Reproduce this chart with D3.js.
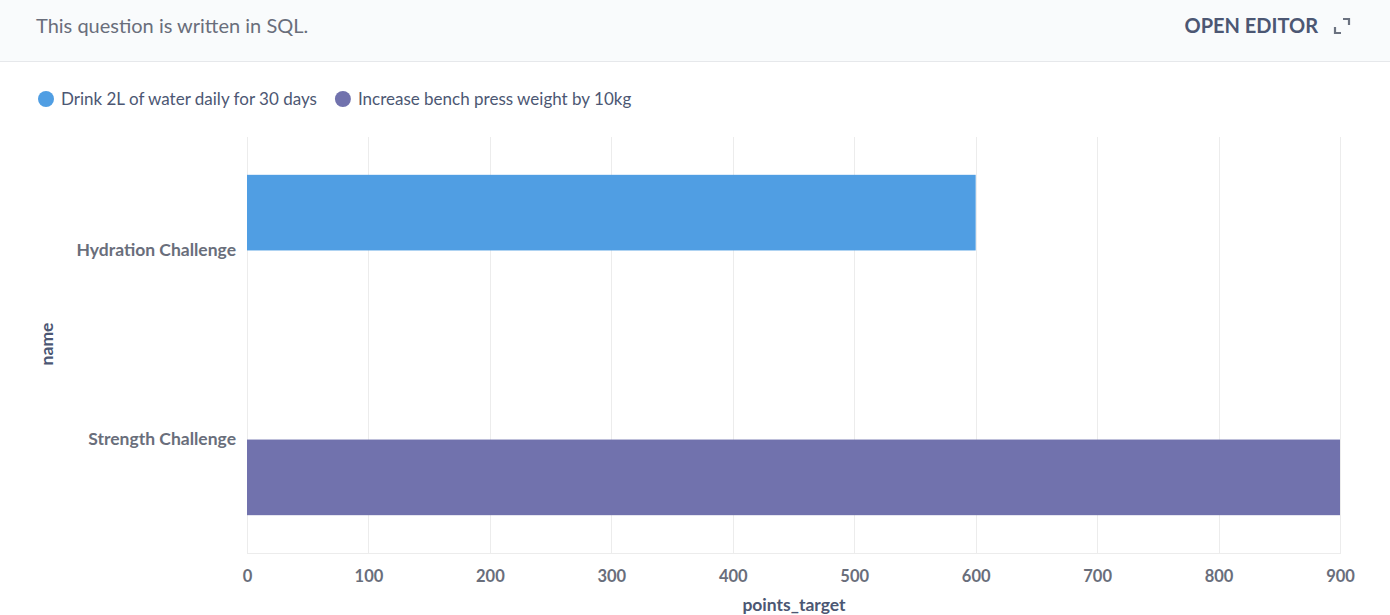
<!DOCTYPE html>
<html>
<head>
<meta charset="utf-8">
<script src="https://cdn.jsdelivr.net/npm/d3@7"></script>
<style>
  html, body { margin: 0; padding: 0; background: #fff; }
  body { width: 1390px; height: 615px; overflow: hidden; font-family: Lato, "Noto Sans", sans-serif; }
</style>
</head>
<body>
<svg id="chart" width="1390" height="615"></svg>
<script>
const categories = ["Hydration Challenge", "Strength Challenge"];
const series = ["Drink 2L of water daily for 30 days", "Increase bench press weight by 10kg"];
// values[seriesIndex][categoryIndex]; null = no bar
const seriesValues = [
  [600, null],
  [null, 900]
];
const xTicks = [0, 100, 200, 300, 400, 500, 600, 700, 800, 900];
const colors = ["#509ee3", "#7172ad"];
const headerTitle = "This question is written in SQL.";
const headerAction = "OPEN EDITOR";
const xTitle = "points_target";
const yTitle = "name";

const svg = d3.select("#chart");
const W = 1390, H = 615;

// Header
svg.append("rect").attr("x", 0).attr("y", 0).attr("width", W).attr("height", 61).attr("fill", "#f9fbfc");
svg.append("line").attr("x1", 0).attr("x2", W).attr("y1", 61.5).attr("y2", 61.5).attr("stroke", "#e6e8eb").attr("stroke-width", 1);
svg.append("text").attr("x", 36).attr("y", 33).attr("font-size", 20).attr("fill", "#696e7b").text(headerTitle);
svg.append("text").attr("x", 1318).attr("y", 33).attr("text-anchor", "end").attr("font-size", 20).attr("font-weight", 700).attr("fill", "#4c5773").text(headerAction);
const ic = svg.append("g").attr("fill", "none").attr("stroke", "#6b7280").attr("stroke-width", 2.2);
ic.append("path").attr("d", "M1335,27 V33 H1341");
ic.append("path").attr("d", "M1343,19 H1349 V25");

// Legend
let lx = 46;
const legend = svg.append("g");
series.forEach((s, i) => {
  legend.append("circle").attr("cx", lx).attr("cy", 99).attr("r", 8).attr("fill", colors[i]);
  const t = legend.append("text").attr("x", lx + 15).attr("y", 105).attr("font-size", 17).attr("fill", "#4c5773").text(s);
  const w = t.node().getComputedTextLength();
  lx = lx + 15 + w + 26;
});

// Scales
const x = d3.scaleLinear().domain([0, 900]).range([247, 1340]);
const y = d3.scaleBand().domain(categories).range([137, 553]).paddingInner(0.2).paddingOuter(0.2);
const ySub = d3.scaleBand().domain(series).range([0, y.bandwidth()]);

// Grid
svg.append("g").selectAll("line").data(xTicks).join("line")
  .attr("x1", d => Math.round(x(d)) + 0.5).attr("x2", d => Math.round(x(d)) + 0.5)
  .attr("y1", 137).attr("y2", 553)
  .attr("stroke", "#ececec").attr("stroke-width", 1);
svg.append("line").attr("x1", 247).attr("x2", 1341).attr("y1", 553.5).attr("y2", 553.5).attr("stroke", "#ececec");

// Bars
const flat = [];
series.forEach((s, si) => categories.forEach((c, ci) => {
  const v = seriesValues[si][ci];
  if (v != null) flat.push({ s, c, v, si });
}));
svg.append("g").selectAll("rect").data(flat).join("rect")
  .attr("x", x(0))
  .attr("y", d => y(d.c) + ySub(d.s))
  .attr("width", d => x(d.v) - x(0))
  .attr("height", ySub.bandwidth())
  .attr("fill", d => colors[d.si]);

// X axis
const xAxis = d3.axisBottom(x).tickValues(xTicks).tickSize(0).tickPadding(0).tickFormat(d3.format("d"));
const gx = svg.append("g").attr("transform", "translate(0,553)").call(xAxis);
gx.select(".domain").remove();
gx.selectAll("text").attr("y", 29).attr("dy", null).attr("font-family", "Lato, sans-serif").attr("font-size", 16.5).attr("font-weight", 700).attr("fill", "#696e7b");

// Y axis
const yAxis = d3.axisLeft(y).tickSize(0).tickPadding(11);
const gy = svg.append("g").attr("transform", "translate(247,0)").call(yAxis);
gy.select(".domain").remove();
gy.selectAll("text").attr("dy", "0.32em").attr("font-family", "Lato, sans-serif").attr("font-size", 17.5).attr("font-weight", 700).attr("fill", "#696e7b");

// Axis titles
svg.append("text").attr("x", 794).attr("y", 611).attr("text-anchor", "middle").attr("font-size", 17.5).attr("font-weight", 700).attr("fill", "#4c5773").text(xTitle);
svg.append("text").attr("transform", "translate(53,344) rotate(-90)").attr("text-anchor", "middle").attr("font-size", 17.5).attr("font-weight", 700).attr("fill", "#4c5773").text(yTitle);
</script>
</body>
</html>
